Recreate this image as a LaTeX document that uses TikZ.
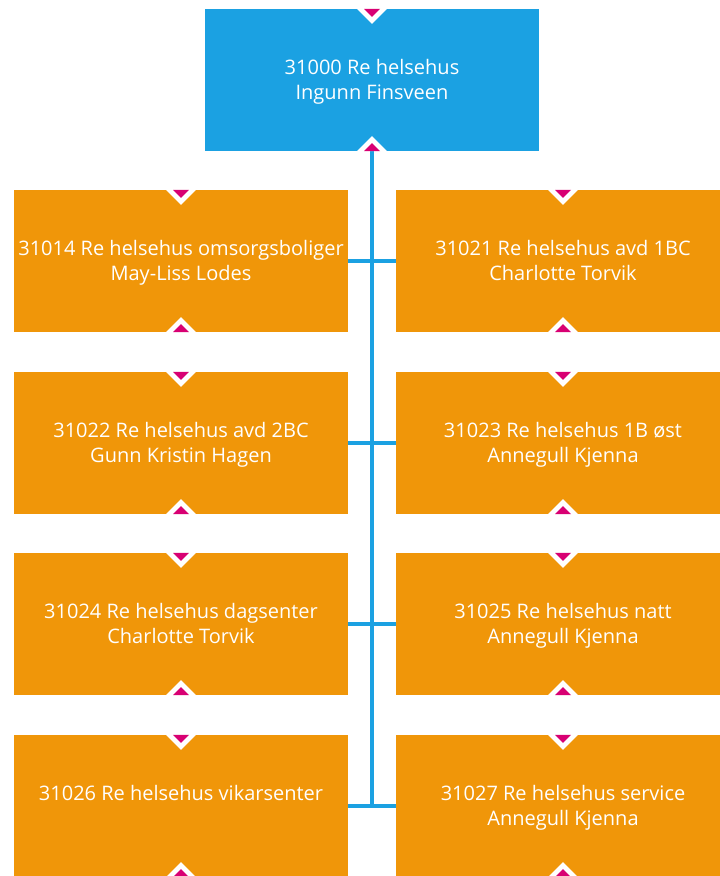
\documentclass[tikz,border=0pt]{standalone}
\usepackage{fontspec}
\setmainfont{Open Sans}
\definecolor{mblue}{HTML}{1BA1E2}
\definecolor{morange}{HTML}{F09609}
\definecolor{mmag}{HTML}{D80073}
\newcommand\sta{\rule{0pt}{19.85pt}}
\newcommand\stb{\rule[-5.65pt]{0pt}{5.65pt}}
\newcommand\dnmark[1]{%
  \begin{scope}[shift={(#1)}]
    \fill[white] (-15,0) -- (15,0) -- (0,15) -- cycle;
    \fill[mmag] (-8,0) -- (8,0) -- (0,8) -- cycle;
  \end{scope}}
\newcommand\upmark[1]{%
  \begin{scope}[shift={(#1)}]
    \fill[white] (-15,0) -- (15,0) -- (0,-15) -- cycle;
    \fill[mmag] (-8,0) -- (8,0) -- (0,-8) -- cycle;
  \end{scope}}
\begin{document}
\begin{tikzpicture}[x=1pt,y=-1pt,
  box/.style={rectangle, minimum width=334pt, minimum height=142pt, inner sep=0pt,
    text=white, align=center, font=\fontsize{20}{25.5}\selectfont},
  topbox/.style={box, fill=mblue},
  orbox/.style={box, fill=morange},
  conn/.style={draw=mblue, line width=3.5pt}]
\useasboundingbox (0,0) rectangle (720,876);
\clip (0,0) rectangle (720,876);
\node[topbox] (top) at (372,80) {\sta 31000 Re helsehus\\\stb Ingunn Finsveen};
\node[orbox] (l1) at (181,261) {\sta 31014 Re helsehus omsorgsboliger\\\stb May-Liss Lodes};
\node[orbox] (r1) at (563,261) {\sta 31021 Re helsehus avd 1BC\\\stb Charlotte Torvik};
\node[orbox] (l2) at (181,443) {\sta 31022 Re helsehus avd 2BC\\\stb Gunn Kristin Hagen};
\node[orbox] (r2) at (563,443) {\sta 31023 Re helsehus 1B øst\\\stb Annegull Kjenna};
\node[orbox] (l3) at (181,624) {\sta 31024 Re helsehus dagsenter\\\stb Charlotte Torvik};
\node[orbox] (r3) at (563,624) {\sta 31025 Re helsehus natt\\\stb Annegull Kjenna};
\node[orbox] (l4) at (181,806) {\sta 31026 Re helsehus vikarsenter\\\stb};
\node[orbox] (r4) at (563,806) {\sta 31027 Re helsehus service\\\stb Annegull Kjenna};
\coordinate (trunkend) at (top.south |- l4.east);
\draw[conn] (top.south) -- ([yshift=-1.75pt]trunkend);
\draw[conn] (l1.east) -- (r1.west);
\draw[conn] (l2.east) -- (r2.west);
\draw[conn] (l3.east) -- (r3.west);
\draw[conn] (l4.east) -- (r4.west);
\foreach \n in {top,l1,r1,l2,r2,l3,r3,l4,r4}{
  \dnmark{\n.north}
  \upmark{\n.south}
}
\end{tikzpicture}
\end{document}
